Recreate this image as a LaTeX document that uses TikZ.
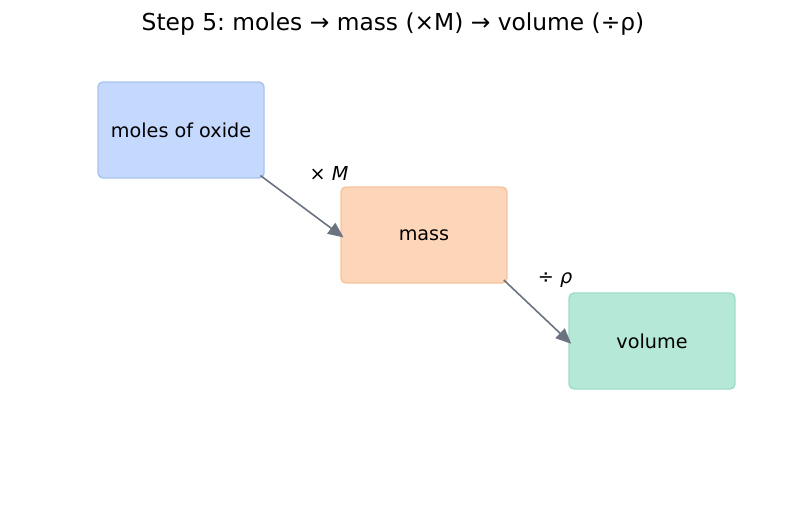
\documentclass[tikz,border=0pt]{standalone}
\usepackage{fontspec}
\setmainfont{DejaVu Sans}
\usepackage{tikz}
\usetikzlibrary{arrows.meta}
\frenchspacing

\definecolor{blueFill}{RGB}{197,217,254}
\definecolor{blueLine}{RGB}{168,196,240}
\definecolor{orangeFill}{RGB}{253,213,184}
\definecolor{orangeLine}{RGB}{248,196,158}
\definecolor{greenFill}{RGB}{182,232,216}
\definecolor{greenLine}{RGB}{157,223,198}
\definecolor{arrowGray}{RGB}{107,114,128}

\begin{document}
\begin{tikzpicture}[x=0.75pt, y=-0.75pt,
    box/.style={rounded corners=3.75pt, line width=1.1pt, minimum width=124.5pt,
      minimum height=72pt, anchor=center, font=\fontsize{14.4}{17}\selectfont},
    conv/.style={-{Triangle[length=11.5pt, width=10pt]}, draw=arrowGray, fill=arrowGray,
      line width=1.2pt, shorten <=-4pt, shorten >=-3pt},
    lbl/.style={anchor=center, font=\fontsize{14.4}{17}\selectfont}]
    \useasboundingbox (0,0) rectangle (787,510);
    \node (T) [anchor=center, font=\fontsize{17.5}{21}\selectfont] at (393,24) {Step 5: moles → mass (×M) → volume (÷ρ)};
    \node (A) [box, fill=blueFill, draw=blueLine] at (181,130) {moles of oxide};
    \node (B) [box, fill=orangeFill, draw=orangeLine] at (424,235) {mass};
    \node (C) [box, fill=greenFill, draw=greenLine] at (652,341) {volume};
    \node (M) [lbl] at (329,173) {× \textit{M}};
    \node (R) [lbl] at (555,280) {÷ \textit{ρ}};
    \draw[conv] (A.south east) -- (B.west);
    \draw[conv] (B.south east) -- (C.west);
  \end{tikzpicture}
\end{document}
